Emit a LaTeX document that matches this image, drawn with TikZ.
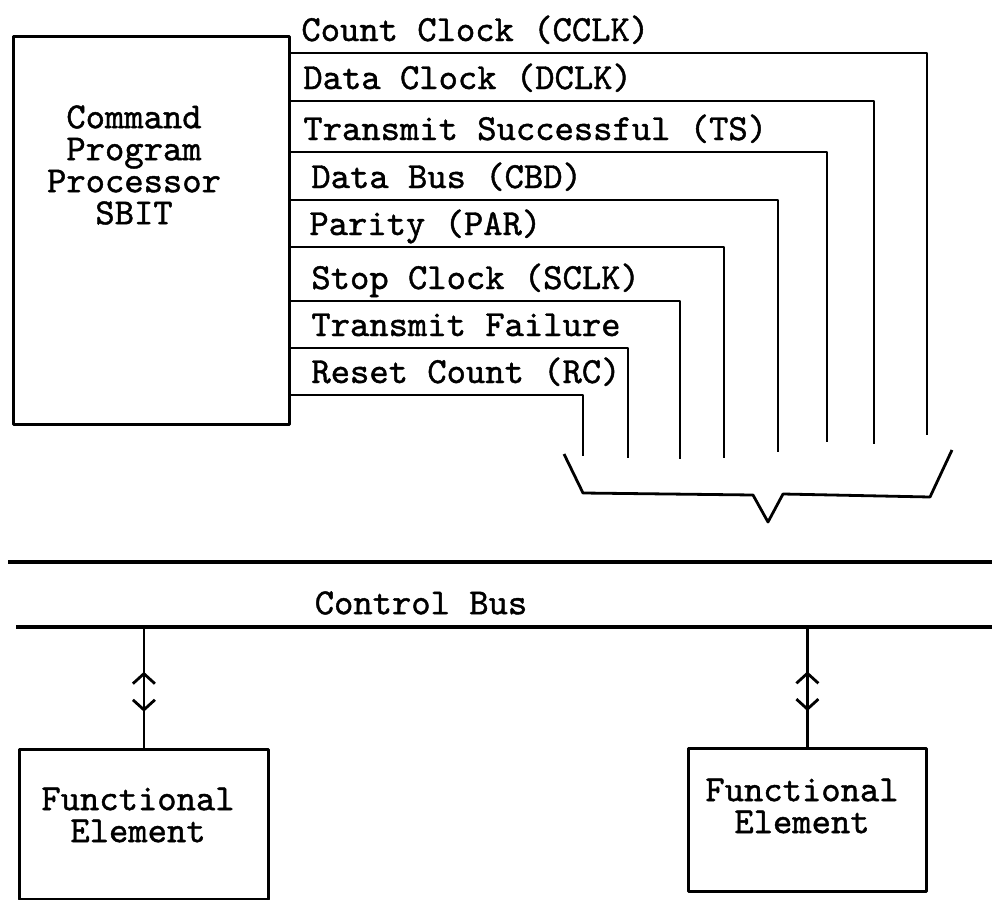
\documentclass[tikz,border=0pt]{standalone}
\usepackage{fontspec}
\newfontfamily\tw{lmmono10-regular.otf}[FakeBold=1.2]
\usetikzlibrary{arrows.meta,decorations.markings}
\begin{document}
\begin{tikzpicture}[x=0.5pt,y=-0.5pt,line width=1.4pt,line join=round,
  txt/.style={font=\tw\fontsize{18.4}{16}\selectfont,inner sep=0pt},
  box/.style={draw,line width=1.4pt,inner sep=0pt,anchor=north west},
  wire/.style={line width=1.4pt},
  busline/.style={line width=2pt},
  barb/.style={},
  bidir/.style={line width=1.4pt,
    decoration={markings,
      mark=at position 0.37 with {\arrowreversed{Straight Barb[length=5pt,width=11pt,line width=1.4pt]}},
      mark=at position 0.70 with {\arrow{Straight Barb[length=5pt,width=11pt,line width=1.4pt]}}},
    postaction={decorate}}]
\useasboundingbox (0,0) rectangle (992,900);

% processor box
\node[box,minimum width=138pt,minimum height=194pt] (cpp) at (12,35) {};
\node[txt,align=center] (cpptxt) at (134,165) {Command\\Program\\Processor\\SBIT};

% signal lines
\foreach \i/\yy/\xe/\yb/\lx/\t in {
  1/53/927/435/300/Count Clock (CCLK),
  2/101/874/444/302/Data Clock (DCLK),
  3/152/827/442/302/Transmit Successful (TS),
  4/200/778/452/310/Data Bus (CBD),
  5/247/724/458/308/Parity (PAR),
  6/301/680/459/310/Stop Clock (SCLK),
  7/348/628/458/310/Transmit Failure,
  8/395/583/456/310/Reset Count (RC)}{
  \coordinate (h\i) at (0,\yy);
  \coordinate (s\i) at (cpp.east |- h\i);
  \coordinate (e\i) at (\xe,\yb);
  \draw[wire] (s\i) -| (e\i);
  \node[txt,anchor=base west] (l\i) at (\lx,\yy-12) {\t};
}

% brace
\draw[wire] (564,454) -- (583,493) -- (753,495) -- (768,522) -- (783,494) -- (930,497) -- (952,450);

% control bus
\coordinate (b1w) at (8,562);
\coordinate (b1e) at (992,562);
\coordinate (b2w) at (16,627);
\coordinate (b2e) at (992,627);
\draw[busline] (b1w) -- (b1e);
\draw[busline] (b2w) -- (b2e);
\node[txt] (cbus) at (421,603) {Control Bus};

% functional elements
\node[box,minimum width=124.5pt,minimum height=75pt] (fe1) at (18,748) {};
\node[txt,align=center] (fe1t) at (138,815) {Functional\\Element};
\node[box,minimum width=119pt,minimum height=71.5pt] (fe2) at (687,747) {};
\node[txt,align=center] (fe2t) at (802,806) {Functional\\Element};

\coordinate (t1) at (fe1.north |- b2w);
\coordinate (t2) at (fe2.north |- b2w);
\draw[bidir] (t1) -- (fe1.north);
\draw[bidir] (t2) -- (fe2.north);
\end{tikzpicture}
\end{document}
